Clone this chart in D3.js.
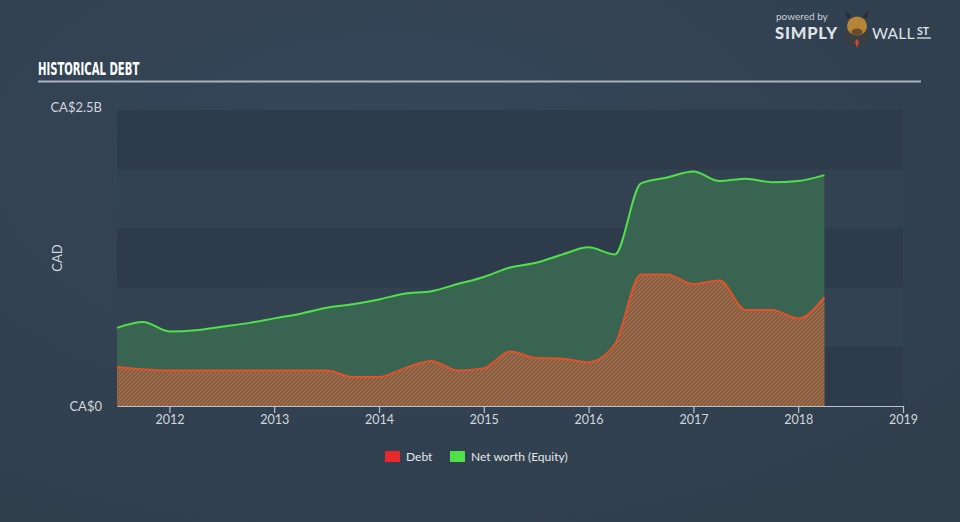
<!DOCTYPE html>
<html><head><meta charset="utf-8">
<script src="https://cdn.jsdelivr.net/npm/d3@7"></script>
<style>
html,body{margin:0;padding:0;background:#33424f;}
svg{display:block;}
</style></head>
<body>
<svg id="chart" width="960" height="522"></svg>
<script>
const dates = [2011.5,2011.75,2012,2012.25,2012.5,2012.75,2013,2013.25,2013.5,2013.75,2014,2014.25,2014.5,2014.75,2015,2015.25,2015.5,2015.75,2016,2016.25,2016.5,2016.75,2017,2017.25,2017.5,2017.75,2018,2018.25];
const debt = [0.33,0.31,0.30,0.30,0.30,0.30,0.30,0.30,0.30,0.245,0.245,0.32,0.38,0.30,0.32,0.46,0.405,0.40,0.37,0.52,1.11,1.11,1.03,1.06,0.81,0.81,0.74,0.92];
const equity = [0.66,0.71,0.63,0.64,0.67,0.70,0.74,0.78,0.83,0.86,0.90,0.95,0.97,1.03,1.09,1.17,1.21,1.28,1.34,1.28,1.88,1.93,1.98,1.90,1.92,1.89,1.90,1.95];
const xTicks = [2012,2013,2014,2015,2016,2017,2018,2019];
const yBands = [0,0.5,1.0,1.5,2.0,2.5];
const yLabels = ["CA$0","CA$2.5B"];
const legendItems = ["Debt","Net worth (Equity)"];

const svg = d3.select("#chart");
const W = 960, H = 522;
const mLeft = 117, mRight = 903, mTop = 110, mBottom = 406;

const defs = svg.append("defs");
const bg = defs.append("radialGradient").attr("id","bg").attr("cx","40%").attr("cy","30%").attr("r","80%");
bg.append("stop").attr("offset","0%").attr("stop-color","#35475a");
bg.append("stop").attr("offset","100%").attr("stop-color","#303e4c");
const pat = defs.append("pattern").attr("id","hatch").attr("patternUnits","userSpaceOnUse")
  .attr("width",4).attr("height",4);
pat.append("rect").attr("width",4).attr("height",4).attr("fill","#5f6650");
pat.append("path").attr("d","M-1,1 l2,-2 M0,4 l4,-4 M3,5 l2,-2")
  .attr("stroke","#c9623a").attr("stroke-width",1.3);

svg.append("rect").attr("width",W).attr("height",H).attr("fill","url(#bg)");

const x = d3.scaleLinear().domain([2011.5,2019]).range([mLeft,mRight]);
const y = d3.scaleLinear().domain([0,2.5]).range([mBottom,mTop]);

// bands
const bandG = svg.append("g");
for (let i=0;i<yBands.length-1;i++){
  bandG.append("rect").attr("x",mLeft).attr("width",mRight-mLeft)
    .attr("y",y(yBands[i+1])).attr("height",y(yBands[i])-y(yBands[i+1]))
    .attr("fill", i%2===0 ? "#2e3b4a" : "#334250");
}

const dataE = dates.map((d,i)=>({d, v:equity[i]}));
const dataD = dates.map((d,i)=>({d, v:debt[i]}));
const curve = d3.curveMonotoneX;

svg.append("path").datum(dataE)
  .attr("d", d3.area().x(p=>x(p.d)).y0(y(0)).y1(p=>y(p.v)).curve(curve))
  .attr("fill","#3a6651").attr("opacity",0.95);
svg.append("path").datum(dataD)
  .attr("d", d3.area().x(p=>x(p.d)).y0(y(0)).y1(p=>y(p.v)).curve(curve))
  .attr("fill","url(#hatch)");
svg.append("path").datum(dataE)
  .attr("d", d3.line().x(p=>x(p.d)).y(p=>y(p.v)).curve(curve))
  .attr("fill","none").attr("stroke","#4fe04a").attr("stroke-width",2);
svg.append("path").datum(dataD)
  .attr("d", d3.line().x(p=>x(p.d)).y(p=>y(p.v)).curve(curve))
  .attr("fill","none").attr("stroke","#e0522a").attr("stroke-width",2);

// x axis
const xAxis = d3.axisBottom(x).tickValues(xTicks).tickFormat(d3.format("d")).tickSize(6).tickSizeOuter(0);
const gx = svg.append("g").attr("transform",`translate(0,${mBottom})`).call(xAxis);
gx.select(".domain").attr("stroke","#b9c2cc").attr("stroke-width",1.2);
gx.selectAll(".tick line").attr("stroke","#b9c2cc").attr("stroke-width",1.2).attr("y1",0).attr("y2",7);
gx.selectAll(".tick text").attr("fill","#d0d6dc").attr("font-family","Lato, 'Open Sans', sans-serif")
  .attr("font-size",12.5).attr("dy","0.78em").attr("y",8);

// y labels
const yl = svg.append("g").attr("font-family","Lato, 'Open Sans', sans-serif").attr("font-size",13).attr("fill","#d0d6dc");
yl.append("text").attr("x",102).attr("y",y(0)).attr("dy","0.35em").attr("text-anchor","end").text(yLabels[0]);
yl.append("text").attr("x",102).attr("y",y(2.5)-3).attr("dy","0.35em").attr("text-anchor","end").text(yLabels[1]);
yl.append("text").attr("transform",`translate(62,${(mTop+mBottom)/2}) rotate(-90)`).attr("text-anchor","middle").text("CAD");

// title
svg.append("text").attr("x",38).attr("y",75).attr("fill","#ffffff")
  .attr("font-family","'Liberation Sans Narrow','DejaVu Sans Condensed',sans-serif")
  .attr("font-weight","bold").attr("font-size",17.5).attr("transform","translate(38,0) scale(0.64,1) translate(-38,0)")
  .text("HISTORICAL DEBT");
svg.append("line").attr("x1",38).attr("x2",921).attr("y1",81.5).attr("y2",81.5)
  .attr("stroke","#a9b1ba").attr("stroke-width",2);

// logo
const logo = svg.append("g").attr("font-family","Lato, 'Open Sans', sans-serif").attr("fill","#dfe3e7");
logo.append("text").attr("x",776).attr("y",20).attr("font-size",10).attr("fill","#c9ced4").text("powered by");
logo.append("text").attr("x",775).attr("y",39).attr("font-size",16.5).attr("font-weight","900").attr("letter-spacing",0.8).text("SIMPLY");
logo.append("text").attr("x",872).attr("y",39).attr("font-size",15.5).attr("letter-spacing",0.2).text("WALL");
logo.append("text").attr("x",917).attr("y",35).attr("font-size",10.5).attr("font-weight","bold").text("ST");
logo.append("line").attr("x1",917).attr("x2",931).attr("y1",38).attr("y2",38).attr("stroke","#dfe3e7").attr("stroke-width",1.3);
logo.append("ellipse").attr("cx",857).attr("cy",36).attr("rx",14).attr("ry",11).attr("fill","#3a3e45");
logo.append("ellipse").attr("cx",857).attr("cy",26).attr("rx",10).attr("ry",9.5).attr("fill","#b48538");
logo.append("ellipse").attr("cx",857).attr("cy",32).attr("rx",5.5).attr("ry",3.5).attr("fill","#6b4a2a");
logo.append("path").attr("d","M848,19 l-3,-9 l6,6 Z M866,19 l3,-9 l-6,6 Z").attr("fill","#2b2b2b");
logo.append("path").attr("d","M857,39 l-2,3 l2,6 l2,-6 Z").attr("fill","#d2482a");

// legend
const lg = svg.append("g").attr("font-family","Lato, 'Open Sans', sans-serif").attr("font-size",12).attr("fill","#e3e7eb");
lg.append("rect").attr("x",385).attr("y",451).attr("width",15).attr("height",11).attr("fill","#e8282a");
lg.append("text").attr("x",406).attr("y",457).attr("dy","0.35em").text(legendItems[0]);
lg.append("rect").attr("x",450).attr("y",451).attr("width",15).attr("height",11).attr("fill","#4fe04a");
lg.append("text").attr("x",471).attr("y",457).attr("dy","0.35em").text(legendItems[1]);
</script>
</body></html>
